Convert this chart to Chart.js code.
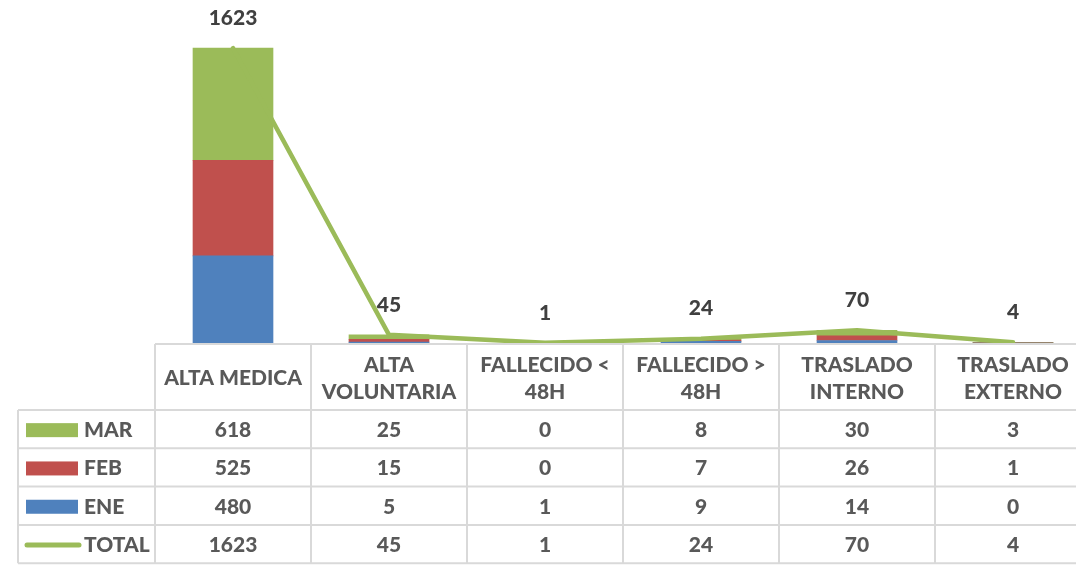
<!DOCTYPE html>
<html>
<head>
<meta charset="utf-8">
<script src="https://cdn.jsdelivr.net/npm/chart.js@4"></script>
<style>
  html, body { margin: 0; padding: 0; background: #fff; overflow: hidden; }
  #wrap { width: 1092px; height: 570px; }
</style>
</head>
<body>
<div id="wrap"><canvas id="chart" width="1092" height="570"></canvas></div>
<script>
// categorias y series
const categories = [
  ['ALTA MEDICA'],
  ['ALTA', 'VOLUNTARIA'],
  ['FALLECIDO <', '48H'],
  ['FALLECIDO >', '48H'],
  ['TRASLADO', 'INTERNO'],
  ['TRASLADO', 'EXTERNO']
];
const ene = [480, 5, 1, 9, 14, 0];
const feb = [525, 15, 0, 7, 26, 1];
const mar = [618, 25, 0, 8, 30, 3];
const total = [1623, 45, 1, 24, 70, 4];

const FONT = 'Lato, "Open Sans", sans-serif';
const colors = { ene: '#4F81BD', feb: '#C0504D', mar: '#9BBB59' };

// etiquetas de datos sobre la linea TOTAL
const totalLabels = {
  id: 'totalLabels',
  afterDatasetsDraw(chart) {
    const ctx = chart.ctx;
    const meta = chart.getDatasetMeta(0);
    ctx.save();
    ctx.font = '900 21px ' + FONT;
    ctx.fillStyle = '#404040';
    ctx.textAlign = 'center';
    ctx.textBaseline = 'middle';
    meta.data.forEach((pt, i) => {
      ctx.fillText(String(total[i]), pt.x, pt.y - 30);
    });
    ctx.restore();
  }
};

// tabla de datos debajo del grafico
const dataTable = {
  id: 'dataTable',
  afterDraw(chart) {
    const ctx = chart.ctx;
    const area = chart.chartArea;
    const xs = chart.scales.x;
    const colW = (area.right - area.left) / categories.length;
    const top = area.bottom;
    const headH = 67;
    const rowH = 38.3;
    const left = 18;
    const rows = [
      { name: 'MAR', data: mar, color: colors.mar, kind: 'box' },
      { name: 'FEB', data: feb, color: colors.feb, kind: 'box' },
      { name: 'ENE', data: ene, color: colors.ene, kind: 'box' },
      { name: 'TOTAL', data: total, color: colors.mar, kind: 'line' }
    ];
    const bottom = top + headH + rowH * rows.length;
    ctx.save();
    ctx.strokeStyle = '#D9D9D9';
    ctx.lineWidth = 2;
    ctx.beginPath();
    // linea superior de cabecera
    ctx.moveTo(area.left, top + 1); ctx.lineTo(area.right, top + 1);
    // lineas horizontales de filas
    for (let r = 0; r <= rows.length; r++) {
      const y = top + headH + r * rowH;
      ctx.moveTo(left, y); ctx.lineTo(area.right, y);
    }
    // verticales
    ctx.moveTo(left, top + headH); ctx.lineTo(left, bottom);
    for (let c = 0; c <= categories.length; c++) {
      const x = area.left + c * colW;
      ctx.moveTo(x, top + 1); ctx.lineTo(x, bottom);
    }
    ctx.stroke();

    ctx.fillStyle = '#595959';
    ctx.font = '900 21px ' + FONT;
    ctx.textAlign = 'center';
    ctx.textBaseline = 'middle';
    categories.forEach((lines, i) => {
      const cx = xs.getPixelForValue(i);
      const cy = top + headH / 2 + 2;
      const lh = 27;
      lines.forEach((t, k) => {
        ctx.fillText(t, cx, cy + (k - (lines.length - 1) / 2) * lh);
      });
    });

    rows.forEach((row, r) => {
      const cy = top + headH + r * rowH + rowH / 2 + 1;
      if (row.kind === 'box') {
        ctx.fillStyle = row.color;
        ctx.fillRect(26, cy - 7, 52, 14);
      } else {
        ctx.strokeStyle = row.color;
        ctx.lineWidth = 5;
        ctx.lineCap = 'round';
        ctx.beginPath();
        ctx.moveTo(27, cy); ctx.lineTo(79, cy);
        ctx.stroke();
      }
      ctx.fillStyle = '#595959';
      ctx.textAlign = 'left';
      ctx.fillText(row.name, 84, cy);
      ctx.textAlign = 'center';
      row.data.forEach((v, i) => {
        ctx.fillText(String(v), xs.getPixelForValue(i), cy);
      });
    });
    ctx.restore();
  }
};

const ctx = document.getElementById('chart').getContext('2d');
new Chart(ctx, {
  data: {
    labels: categories.map(c => c.join(' ')),
    datasets: [
      {
        type: 'line', label: 'TOTAL', data: total,
        borderColor: colors.mar, borderWidth: 4.5,
        pointRadius: 0, tension: 0, borderCapStyle: 'round', borderJoinStyle: 'round'
      },
      { type: 'bar', label: 'ENE', data: ene, backgroundColor: colors.ene, barThickness: 80 },
      { type: 'bar', label: 'FEB', data: feb, backgroundColor: colors.feb, barThickness: 80 },
      { type: 'bar', label: 'MAR', data: mar, backgroundColor: colors.mar, barThickness: 80 }
    ]
  },
  options: {
    responsive: false,
    animation: false,
    devicePixelRatio: 1,
    layout: { padding: { left: 155, right: 1, top: 16, bottom: 227 } },
    plugins: { legend: { display: false }, tooltip: { enabled: false } },
    scales: {
      x: { display: false, stacked: true, offset: true },
      y: { display: false, stacked: true, min: 0, max: 1800 }
    }
  },
  plugins: [totalLabels, dataTable]
});
</script>
</body>
</html>
